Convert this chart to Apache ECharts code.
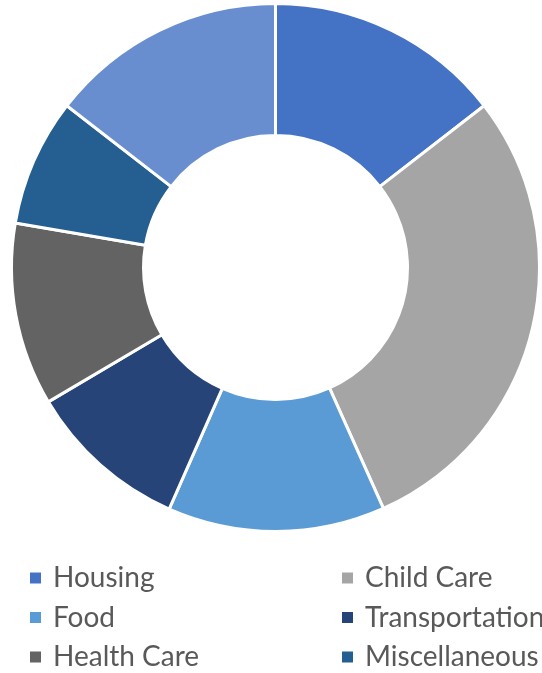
<!DOCTYPE html>
<html>
<head>
<meta charset="utf-8">
<script src="https://cdn.jsdelivr.net/npm/echarts@6/dist/echarts.min.js"></script>
<style>
  html, body { margin: 0; padding: 0; background: #fff; }
  #chart { width: 542px; height: 673px; }
</style>
</head>
<body>
<div id="chart"></div>
<script>
// budget shares, clockwise from 12 o'clock
const categories = ["Housing", "Child Care", "Food", "Transportation", "Health Care", "Miscellaneous", "Taxes"];
const shares = [14.5, 28.8, 13.3, 9.9, 11.2, 7.8, 14.5];
const colors = ["#4472C4", "#A5A5A5", "#5B9BD5", "#264478", "#636363", "#255E91", "#698ED0"];

// one legend per entry, laid out two per row like the original
const legends = categories.map((name, i) => ({
  left: 28 + (i % 2) * 312,
  top: 562 + Math.floor(i / 2) * 39.5,
  padding: 0,
  icon: "rect",
  itemWidth: 13,
  itemHeight: 13,
  selectedMode: false,
  textStyle: {
    fontFamily: "Lato",
    fontSize: 28,
    color: "#595959",
    lineHeight: 32,
    padding: [0, 0, 0, 6],
  },
  data: [name],
}));

const chart = echarts.init(document.getElementById("chart"));
chart.setOption({
  animation: false,
  color: colors,
  legend: legends,
  series: [
    {
      type: "pie",
      center: [275.5, 267.5],
      radius: [132, 264],
      startAngle: 90,
      label: { show: false },
      labelLine: { show: false },
      emphasis: { disabled: true },
      itemStyle: { borderColor: "#fff", borderWidth: 3 },
      data: categories.map((name, i) => ({ name: name, value: shares[i] })),
    },
  ],
});
</script>
</body>
</html>
